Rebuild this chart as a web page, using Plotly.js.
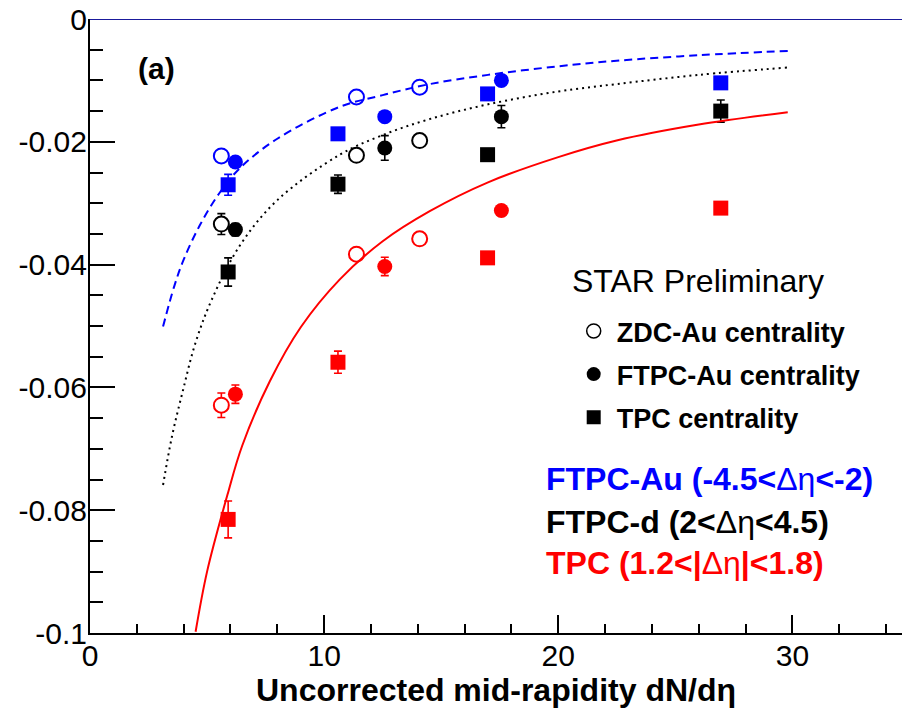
<!DOCTYPE html>
<html>
<head>
<meta charset="utf-8">
<script src="https://cdn.plot.ly/plotly-3.0.1.min.js"></script>
<style>
  html, body { margin: 0; padding: 0; background: #ffffff; }
  #chart { width: 902px; height: 712px; }
</style>
</head>
<body>
<div id="chart"></div>
<script>
// ---------------- data ----------------
// x positions (uncorrected mid-rapidity dN/deta) per centrality definition
const zdcX  = [5.61, 11.38, 14.08];
const ftpcX = [6.21, 12.59, 17.57];
const tpcX  = [5.90, 10.59, 16.98, 26.94];

// FTPC-Au (-4.5<deta<-2)  -- blue
const blueZdcY  = [-0.0223, -0.0127, -0.0111];
const blueZdcE  = [0.0007, 0.0006, 0.0006];
const blueFtpcY = [-0.0233, -0.0159, -0.0100];
const blueFtpcE = [0.0008, 0.0006, 0.0006];
const blueTpcY  = [-0.0270, -0.0187, -0.0122, -0.0104];
const blueTpcE  = [0.0017, 0.0008, 0.0006, 0.0006];

// FTPC-d (2<deta<4.5)  -- black
const blackZdcY  = [-0.0334, -0.0222, -0.0198];
const blackZdcE  = [0.0017, 0.0008, 0.0008];
const blackFtpcY = [-0.0343, -0.0210, -0.0159];
const blackFtpcE = [0.0010, 0.0020, 0.0018];
const blackTpcY  = [-0.0412, -0.0269, -0.0221, -0.0150];
const blackTpcE  = [0.0023, 0.0015, 0.0008, 0.0018];

// TPC (1.2<|deta|<1.8)  -- red
const redZdcY  = [-0.0629, -0.0383, -0.0358];
const redZdcE  = [0.0020, 0.0008, 0.0008];
const redFtpcY = [-0.0611, -0.0403, -0.0312];
const redFtpcE = [0.0015, 0.0015, 0.0008];
const redTpcY  = [-0.0815, -0.0559, -0.0389, -0.0308];
const redTpcE  = [0.0030, 0.0018, 0.0008, 0.0008];

// fit curves, points
const blueFitX  = [3.12, 3.6, 4.0, 4.69, 5.5, 6.4, 8.0, 10.67, 12.5, 14.51, 17.0, 20.0, 22.49, 26.0, 29.8];
const blueFitY  = [-0.0501, -0.0435, -0.0392, -0.0336, -0.0285, -0.0243, -0.0195, -0.0143, -0.0124, -0.0106, -0.0091, -0.0077, -0.0068, -0.0059, -0.0052];
const blackFitX = [3.12, 3.5, 3.97, 4.5, 5.19, 6.4, 8.0, 10.67, 12.5, 14.51, 17.0, 20.0, 22.49, 26.0, 29.8];
const blackFitY = [-0.0759, -0.0680, -0.0605, -0.0528, -0.0458, -0.0369, -0.0295, -0.0221, -0.0189, -0.0163, -0.0139, -0.0118, -0.0106, -0.0091, -0.0079];
const redFitX   = [4.51, 5.0, 5.87, 6.5, 7.68, 9.0, 10.67, 12.5, 14.51, 17.0, 20.0, 22.49, 26.0, 29.8];
const redFitY   = [-0.0998, -0.0900, -0.0775, -0.0695, -0.0590, -0.0502, -0.0424, -0.0362, -0.0313, -0.0266, -0.0225, -0.0198, -0.0172, -0.0152];

// axis ticks
const xTickVals = [0, 10, 20, 30];
const xTickText = ["0", "10", "20", "30"];
const yTickVals = [0, -0.02, -0.04, -0.06, -0.08, -0.1];
const yTickText = ["0", "-0.02", "-0.04", "-0.06", "-0.08", "-0.1"];

// legend labels
const legendNames = ["ZDC-Au centrality", "FTPC-Au centrality", "TPC centrality"];

// ---------------- styling ----------------
const FONT = "Liberation Sans, Arial, Helvetica, sans-serif";
const BLUE = "#0000ff", BLACK = "#000000", RED = "#ff0000";

function pts(x, y, e, color, kind) {
  const open = kind === "zdc";
  const sym = kind === "tpc" ? "square" : "circle";
  return {
    type: "scatter", mode: "markers", x: x, y: y, showlegend: false,
    cliponaxis: false,
    marker: {
      symbol: sym, size: 15, color: open ? "#ffffff" : color,
      line: { color: color, width: open ? 2 : 0 }
    },
    error_y: { type: "data", array: e, visible: true, color: color, thickness: 1.6, width: 4 },
    hoverinfo: "skip"
  };
}

function fit(x, y, color, dash) {
  return {
    type: "scatter", mode: "lines", x: x, y: y, showlegend: false,
    line: { color: color, width: 2, dash: dash, shape: "spline", smoothing: 1 },
    hoverinfo: "skip"
  };
}

function legendEntry(name, sym, group) {
  return {
    type: "scatter", mode: "markers", x: [null], y: [null], name: name,
    legendgroup: group, showlegend: true,
    marker: { symbol: sym, size: 14, color: BLACK, line: { color: BLACK, width: sym === "circle-open" ? 1.5 : 0 } }
  };
}

const traces = [
  pts(zdcX, redZdcY, redZdcE, RED, "zdc"),
  pts(ftpcX, redFtpcY, redFtpcE, RED, "ftpc"),
  pts(tpcX, redTpcY, redTpcE, RED, "tpc"),

  pts(zdcX, blackZdcY, blackZdcE, BLACK, "zdc"),
  pts(ftpcX, blackFtpcY, blackFtpcE, BLACK, "ftpc"),
  pts(tpcX, blackTpcY, blackTpcE, BLACK, "tpc"),

  pts(zdcX, blueZdcY, blueZdcE, BLUE, "zdc"),
  pts(ftpcX, blueFtpcY, blueFtpcE, BLUE, "ftpc"),
  pts(tpcX, blueTpcY, blueTpcE, BLUE, "tpc"),

  fit(redFitX, redFitY, RED, "solid"),
  fit(blackFitX, blackFitY, BLACK, "2px,4px"),
  fit(blueFitX, blueFitY, BLUE, "8px,5px"),

  legendEntry(legendNames[0], "circle-open", "g1"),
  legendEntry(legendNames[1], "circle", "g2"),
  legendEntry(legendNames[2], "square", "g3")
];

const layout = {
  width: 902, height: 712,
  margin: { l: 90, r: 0, t: 19, b: 79, pad: 0 },
  paper_bgcolor: "#ffffff", plot_bgcolor: "#ffffff",
  font: { family: FONT, color: BLACK, size: 30 },
  showlegend: true,
  legend: {
    x: 0.592, y: 0.531, xanchor: "left", yanchor: "top",
    bgcolor: "rgba(0,0,0,0)", borderwidth: 0,
    font: { family: FONT, size: 27, color: BLACK, weight: "bold" },
    itemwidth: 36, tracegroupgap: 5, traceorder: "grouped"
  },
  xaxis: {
    range: [0, 34.68], showgrid: false, zeroline: false,
    showline: true, linecolor: BLACK, linewidth: 2,
    ticks: "inside", ticklen: 18, tickwidth: 2, tickcolor: BLACK,
    tickmode: "array", tickvals: xTickVals, ticktext: xTickText,
    tickfont: { family: FONT, size: 30, color: BLACK },
    ticklabelstandoff: -5,
    minor: { dtick: 2, tick0: 0, ticks: "inside", ticklen: 9, tickwidth: 2, tickcolor: BLACK, showgrid: false },
    title: { text: "Uncorrected mid-rapidity dN/dη", font: { family: FONT, size: 32, color: BLACK, weight: "bold" }, standoff: 6 },
    automargin: false, fixedrange: true
  },
  yaxis: {
    range: [-0.1, 0], showgrid: false, zeroline: false,
    showline: true, linecolor: BLACK, linewidth: 2,
    ticks: "inside", ticklen: 25, tickwidth: 2, tickcolor: BLACK,
    tickmode: "array", tickvals: yTickVals, ticktext: yTickText,
    tickfont: { family: FONT, size: 30, color: BLACK },
    ticklabelstandoff: -5,
    minor: { dtick: 0.005, tick0: 0, ticks: "inside", ticklen: 13, tickwidth: 2, tickcolor: BLACK, showgrid: false },
    automargin: false, fixedrange: true
  },
  shapes: [
    { type: "line", xref: "paper", yref: "y", x0: 0, x1: 1, y0: 0, y1: 0,
      line: { color: "#1a1a9c", width: 2 }, layer: "above" }
  ],
  annotations: [
    { text: "<b>(a)</b>", x: 2.85, y: -0.0081, xref: "x", yref: "y", xanchor: "center", yanchor: "middle",
      showarrow: false, font: { family: FONT, size: 30, color: BLACK } },
    { text: "STAR Preliminary", x: 20.49, y: -0.0427, xref: "x", yref: "y", xanchor: "left", yanchor: "middle",
      showarrow: false, font: { family: FONT, size: 32, color: BLACK } },
    { text: "<b>FTPC-Au (-4.5&lt;</b>Δη<b>&lt;-2)</b>", x: 19.38, y: -0.0749, xref: "x", yref: "y", xanchor: "left", yanchor: "middle",
      showarrow: false, font: { family: FONT, size: 32, color: BLUE } },
    { text: "<b>FTPC-d (2&lt;</b>Δη<b>&lt;4.5)</b>", x: 19.38, y: -0.0820, xref: "x", yref: "y", xanchor: "left", yanchor: "middle",
      showarrow: false, font: { family: FONT, size: 32, color: BLACK } },
    { text: "<b>TPC (1.2&lt;|</b>Δη<b>|&lt;1.8)</b>", x: 19.38, y: -0.0886, xref: "x", yref: "y", xanchor: "left", yanchor: "middle",
      showarrow: false, font: { family: FONT, size: 32, color: RED } }
  ]
};

Plotly.newPlot("chart", traces, layout, { staticPlot: true, displayModeBar: false });
</script>
</body>
</html>
